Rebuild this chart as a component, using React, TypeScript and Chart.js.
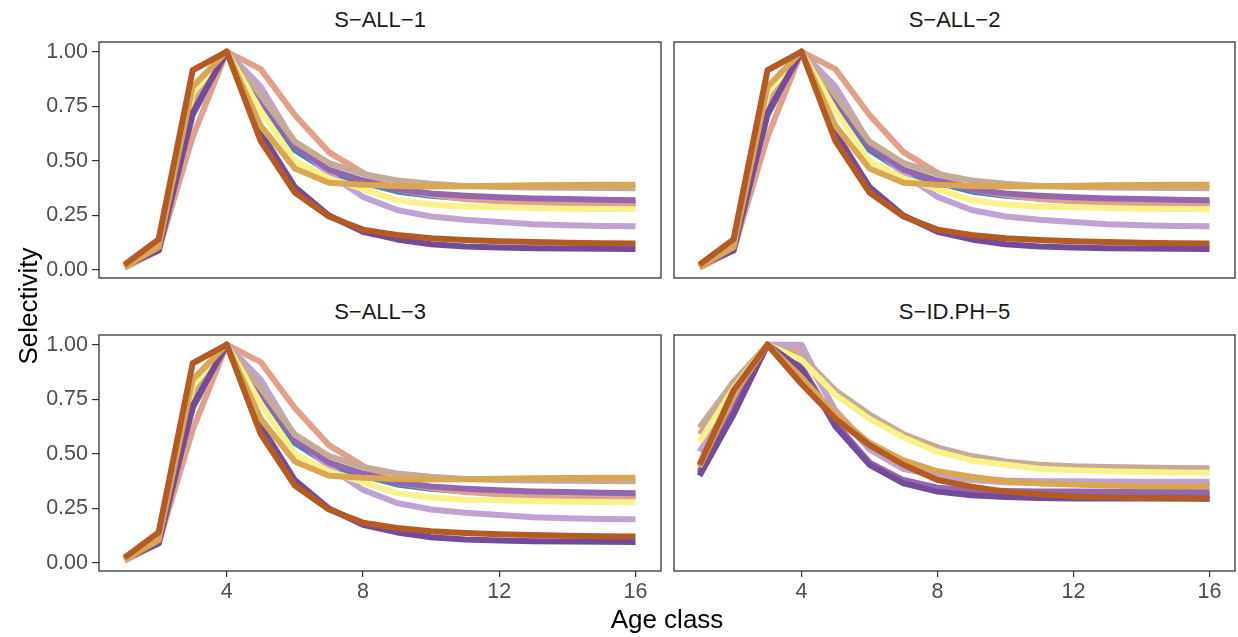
import React, { useEffect, useRef } from "react";
import { Chart, registerables } from "chart.js";

Chart.register(...registerables);

// ---------------- DATA ----------------
const ages = [1, 2, 3, 4, 5, 6, 7, 8, 9, 10, 11, 12, 13, 14, 15, 16];
const xTickValues = [4, 8, 12, 16];
const yTickValues = [0, 0.25, 0.5, 0.75, 1];
const panelTitles = ["S\u2212ALL\u22121", "S\u2212ALL\u22122", "S\u2212ALL\u22123", "S\u2212ID.PH\u22125"];
const xAxisTitle = "Age class";
const yAxisTitle = "Selectivity";

// S-ALL scenarios (same curves in the three S-ALL panels)
const allBrown = [0.025, 0.14, 0.915, 1.0, 0.59, 0.355, 0.245, 0.185, 0.16, 0.145, 0.137, 0.132, 0.128, 0.125, 0.123, 0.122];
const allGold = [0.015, 0.105, 0.84, 1.0, 0.66, 0.465, 0.4, 0.39, 0.385, 0.383, 0.384, 0.386, 0.388, 0.389, 0.39, 0.39];
const allDarkPurple = [0.02, 0.09, 0.72, 1.0, 0.63, 0.38, 0.25, 0.175, 0.14, 0.118, 0.108, 0.103, 0.1, 0.098, 0.097, 0.096];
const allYellow = [0.02, 0.1, 0.81, 1.0, 0.73, 0.5, 0.42, 0.37, 0.32, 0.3, 0.29, 0.287, 0.284, 0.281, 0.279, 0.278];
const allTan = [0.02, 0.1, 0.77, 1.0, 0.8, 0.588, 0.49, 0.44, 0.41, 0.395, 0.385, 0.38, 0.378, 0.377, 0.376, 0.375];
const allMidPurple = [0.02, 0.09, 0.72, 1.0, 0.78, 0.565, 0.46, 0.41, 0.37, 0.35, 0.34, 0.333, 0.328, 0.325, 0.322, 0.32];
const allLightPurple = [0.02, 0.09, 0.75, 1.0, 0.84, 0.58, 0.44, 0.335, 0.275, 0.245, 0.23, 0.22, 0.21, 0.205, 0.202, 0.2];
const allSalmon = [0.01, 0.09, 0.61, 1.0, 0.92, 0.71, 0.54, 0.445, 0.37, 0.345, 0.325, 0.315, 0.308, 0.304, 0.302, 0.3];
const allBlue = [0.02, 0.09, 0.71, 1.0, 0.77, 0.55, 0.45, 0.4, 0.36, 0.34, 0.328, 0.32, 0.315, 0.312, 0.31, 0.308];

// S-ID.PH-5 scenario
const idphBrown = [0.45, 0.79, 1.0, 0.82, 0.66, 0.54, 0.45, 0.38, 0.35, 0.327, 0.315, 0.305, 0.3, 0.298, 0.297, 0.296];
const idphGold = [0.44, 0.77, 1.0, 0.85, 0.68, 0.55, 0.47, 0.42, 0.395, 0.375, 0.365, 0.36, 0.355, 0.352, 0.351, 0.35];
const idphDarkPurple = [0.4, 0.68, 1.0, 0.89, 0.625, 0.45, 0.365, 0.327, 0.31, 0.302, 0.298, 0.296, 0.295, 0.295, 0.295, 0.294];
const idphYellow = [0.555, 0.8, 1.0, 0.93, 0.77, 0.66, 0.575, 0.51, 0.47, 0.45, 0.432, 0.425, 0.42, 0.417, 0.415, 0.414];
const idphTan = [0.62, 0.83, 1.0, 0.95, 0.79, 0.68, 0.59, 0.53, 0.49, 0.465, 0.45, 0.443, 0.44, 0.437, 0.435, 0.434];
const idphMidPurple = [0.42, 0.7, 1.0, 0.9, 0.64, 0.46, 0.38, 0.345, 0.335, 0.33, 0.328, 0.327, 0.326, 0.326, 0.326, 0.326];
const idphLightPurple = [0.51, 0.75, 1.0, 1.0, 0.69, 0.52, 0.43, 0.4, 0.385, 0.378, 0.375, 0.374, 0.373, 0.372, 0.372, 0.372];
const idphSalmon = [0.59, 0.78, 1.0, 0.97, 0.7, 0.53, 0.44, 0.4, 0.38, 0.37, 0.365, 0.362, 0.36, 0.36, 0.36, 0.36];
const idphBlue = [0.41, 0.69, 1.0, 0.89, 0.635, 0.455, 0.372, 0.336, 0.322, 0.316, 0.313, 0.311, 0.31, 0.31, 0.31, 0.31];

// ---------------- STYLE ----------------
const FONT = "'Liberation Sans', Arial, Helvetica, sans-serif";
// first listed is drawn on top
const seriesColors = ["#b45b24", "#d9a654", "#744b9b", "#f9f28a", "#c4ab96", "#9367b0", "#bfa2d0", "#e0a08a", "#4b82ac"];
const allSeries = [allBrown, allGold, allDarkPurple, allYellow, allTan, allMidPurple, allLightPurple, allSalmon, allBlue];
const idphSeries = [idphBrown, idphGold, idphDarkPurple, idphYellow, idphTan, idphMidPurple, idphLightPurple, idphSalmon, idphBlue];

const framePlugin = {
  id: "frame",
  afterDraw(chart: any) {
    const { ctx, chartArea } = chart;
    ctx.save();
    ctx.strokeStyle = "#333333";
    ctx.lineWidth = 1.3;
    ctx.strokeRect(chartArea.left, chartArea.top, chartArea.right - chartArea.left, chartArea.bottom - chartArea.top);
    ctx.restore();
  },
};

type PanelProps = {
  left: number;
  top: number;
  width: number;
  height: number;
  padding: { left: number; right: number; top: number; bottom: number };
  showX: boolean;
  showY: boolean;
  series: number[][];
};

function zeroPad(s: any) {
  s.paddingTop = 0;
  s.paddingBottom = 0;
  s.paddingLeft = 0;
  s.paddingRight = 0;
}

function Panel({ left, top, width, height, padding, showX, showY, series }: PanelProps) {
  const ref = useRef<HTMLCanvasElement | null>(null);
  useEffect(() => {
    if (!ref.current) return;
    const chart = new Chart(ref.current, {
      type: "line",
      data: {
        datasets: series.map((vals, k) => ({
          data: ages.map((a, i) => ({ x: a, y: vals[i] })),
          borderColor: seriesColors[k],
          backgroundColor: seriesColors[k],
          borderWidth: 6,
          pointRadius: 0,
          tension: 0,
          fill: false,
          borderJoinStyle: "round" as const,
          borderCapStyle: "butt" as const,
        })),
      },
      options: {
        responsive: false,
        animation: false,
        devicePixelRatio: 1,
        events: [],
        layout: { padding },
        plugins: { legend: { display: false }, tooltip: { enabled: false } },
        scales: {
          x: {
            type: "linear",
            min: 0.25,
            max: 16.75,
            display: showX,
            afterBuildTicks: (s: any) => {
              s.ticks = xTickValues.map((v) => ({ value: v }));
            },
            afterFit: (s: any) => {
              s.height = showX ? 58 : 0;
              zeroPad(s);
            },
            border: { display: false },
            grid: { drawOnChartArea: false, drawTicks: true, tickLength: 6, color: "#333333", lineWidth: 1.2 },
            ticks: {
              color: "#4d4d4d",
              font: { size: 21.5, family: FONT },
              padding: 2,
              maxRotation: 0,
              autoSkip: false,
              callback: (v: any) => String(v),
            },
          },
          y: {
            type: "linear",
            min: -0.0366,
            max: 1.0444,
            display: showY,
            afterBuildTicks: (s: any) => {
              s.ticks = yTickValues.map((v) => ({ value: v }));
            },
            afterFit: (s: any) => {
              s.width = showY ? 99 : 0;
              zeroPad(s);
            },
            border: { display: false },
            grid: { drawOnChartArea: false, drawTicks: true, tickLength: 7, color: "#333333", lineWidth: 1.2 },
            ticks: {
              color: "#4d4d4d",
              font: { size: 21.5, family: FONT },
              padding: 4,
              autoSkip: false,
              callback: (v: any) => Number(v).toFixed(2),
            },
          },
        },
      },
      plugins: [framePlugin],
    } as any);
    return () => chart.destroy();
  }, []);
  return (
    <canvas
      ref={ref}
      width={width}
      height={height}
      style={{ position: "absolute", left, top, width, height }}
    />
  );
}

const stripStyle: React.CSSProperties = {
  position: "absolute",
  fontFamily: FONT,
  fontSize: 22,
  color: "#1a1a1a",
  textAlign: "center",
  whiteSpace: "nowrap",
  lineHeight: "24px",
};

export default function App() {
  return (
    <div
      style={{
        position: "absolute",
        left: 0,
        top: 0,
        width: 1238,
        height: 637,
        background: "#ffffff",
        overflow: "hidden",
      }}
    >
      <Panel left={0} top={36} width={665} height={250} padding={{ left: 0, right: 4, top: 6, bottom: 8 }} showX={false} showY={true} series={allSeries} />
      <Panel left={665} top={36} width={573} height={250} padding={{ left: 9, right: 3, top: 6, bottom: 8 }} showX={false} showY={false} series={allSeries} />
      <Panel left={0} top={329} width={665} height={300} padding={{ left: 0, right: 4, top: 6, bottom: 0 }} showX={true} showY={true} series={allSeries} />
      <Panel left={665} top={329} width={573} height={300} padding={{ left: 9, right: 3, top: 6, bottom: 0 }} showX={true} showY={false} series={idphSeries} />

      <div style={{ ...stripStyle, left: 99, width: 562, top: 8 }}>{panelTitles[0]}</div>
      <div style={{ ...stripStyle, left: 674, width: 561, top: 8 }}>{panelTitles[1]}</div>
      <div style={{ ...stripStyle, left: 99, width: 562, top: 300 }}>{panelTitles[2]}</div>
      <div style={{ ...stripStyle, left: 674, width: 561, top: 300 }}>{panelTitles[3]}</div>

      <div
        style={{
          position: "absolute",
          left: 99,
          width: 1136,
          top: 604,
          textAlign: "center",
          fontFamily: FONT,
          fontSize: 26,
          color: "#000000",
          lineHeight: "30px",
        }}
      >
        {xAxisTitle}
      </div>
      <div
        style={{
          position: "absolute",
          left: 28 - 150,
          top: 306 - 15,
          width: 300,
          height: 30,
          lineHeight: "30px",
          textAlign: "center",
          fontFamily: FONT,
          fontSize: 26,
          color: "#000000",
          transform: "rotate(-90deg)",
          transformOrigin: "150px 15px",
        }}
      >
        {yAxisTitle}
      </div>
    </div>
  );
}
